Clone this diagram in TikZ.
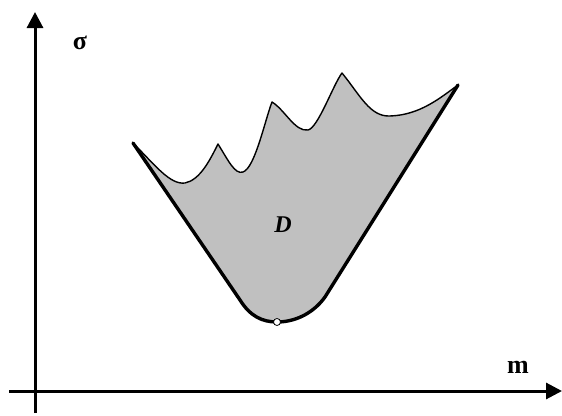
\documentclass[tikz,border=0pt]{standalone}
\usepackage{fontspec}
\setmainfont{Liberation Serif}
\usetikzlibrary{arrows.meta}
\begin{document}
\begin{tikzpicture}[x=1pt,y=-1pt,
  axis/.style={line width=3pt,-{Triangle[width=16pt,length=16pt]}},
  lbl/.style={font=\fontsize{26}{30}\selectfont\bfseries, inner sep=0pt},
  upper/.style={line width=1.4pt, line join=round},
  lower/.style={line width=3.4pt, line join=round, line cap=round}]
\useasboundingbox (0,0) rectangle (562,415);
% region D
\fill[fill={rgb,255:red,192;green,192;blue,192}]
  (133,143) .. controls (155,165) and (170,185) .. (185,183)
  .. controls (200,180) and (210,160) .. (218,144)
  .. controls (228,160) and (235,175) .. (243,172)
  .. controls (255,168) and (265,120) .. (272,102)
  .. controls (285,110) and (295,132) .. (308,130)
  .. controls (318,128) and (333,85) .. (342,73)
  .. controls (360,95) and (370,117) .. (390,116)
  .. controls (420,115) and (440,98) .. (458,85)
  -- (325,297) .. controls (312,315) and (293,322) .. (277,322)
  .. controls (262,322) and (250,316) .. (240,300) -- cycle;
\draw[upper]
  (133,143) .. controls (155,165) and (170,185) .. (185,183)
  .. controls (200,180) and (210,160) .. (218,144)
  .. controls (228,160) and (235,175) .. (243,172)
  .. controls (255,168) and (265,120) .. (272,102)
  .. controls (285,110) and (295,132) .. (308,130)
  .. controls (318,128) and (333,85) .. (342,73)
  .. controls (360,95) and (370,117) .. (390,116)
  .. controls (420,115) and (440,98) .. (458,85);
\draw[lower]
  (133,143) -- (240,300) .. controls (250,316) and (262,322) .. (277,322)
  .. controls (293,322) and (312,315) .. (325,297) -- (458,85);
% axes
\coordinate (ybot) at (35,413);
\coordinate (ytop) at (35,12);
\coordinate (xleft) at (9,391);
\coordinate (xright) at (562,391);
\draw[axis] (ybot) -- (ytop);
\draw[axis] (xleft) -- (xright);
% minimum point
\node[circle, draw, fill=white, line width=0.8pt, minimum size=7pt, inner sep=0pt] (min) at (277,322) {};
% labels
\node[lbl] (sigma) at (80,43) {σ};
\node[lbl] (m) at (518,367) {m};
\node[lbl, font=\fontsize{24}{28}\selectfont\bfseries\itshape] (D) at (283,225) {D};
\end{tikzpicture}
\end{document}
